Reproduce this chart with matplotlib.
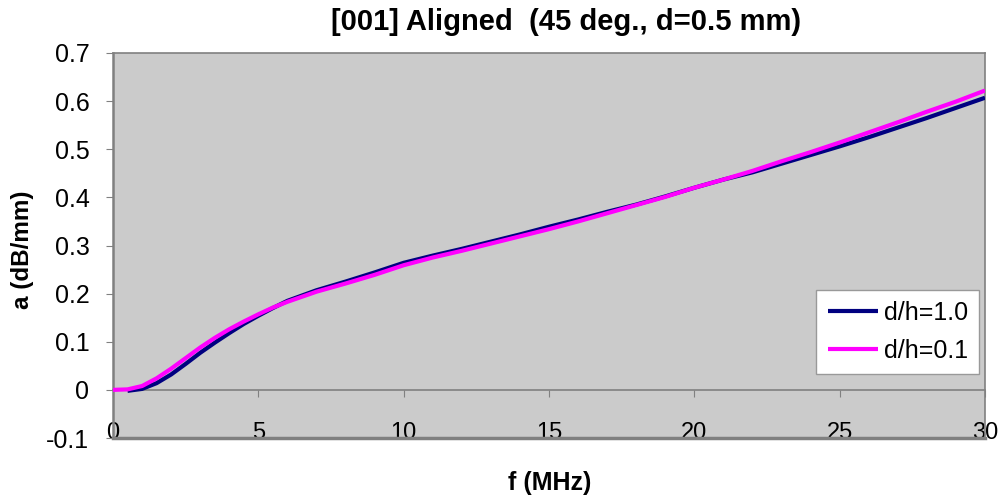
import matplotlib
matplotlib.use("Agg")
import matplotlib.pyplot as plt

plt.rcParams['font.family'] = ['Liberation Sans', 'DejaVu Sans']

# Frequency grid (MHz)
freq = [0, 0.5, 1, 1.5, 2, 2.5, 3, 3.5, 4, 4.5, 5, 5.5, 6, 7, 8, 9, 10, 11, 12,
        13, 14, 15, 16, 17, 18, 19, 20, 21, 22, 23, 24, 25, 26, 27, 28, 29, 30]

# Attenuation (dB/mm) for the two thickness ratios
atten_dh10 = [0.0, -0.002, 0.002, 0.014, 0.032, 0.054, 0.077, 0.098, 0.118, 0.137,
              0.154, 0.170, 0.185, 0.207, 0.225, 0.244, 0.264, 0.279, 0.293, 0.308,
              0.323, 0.339, 0.354, 0.370, 0.385, 0.402, 0.420, 0.437, 0.452, 0.470,
              0.488, 0.506, 0.525, 0.545, 0.565, 0.586, 0.607]
atten_dh01 = [0.0, 0.001, 0.008, 0.024, 0.044, 0.066, 0.088, 0.108, 0.126, 0.142,
              0.157, 0.171, 0.183, 0.204, 0.221, 0.239, 0.259, 0.275, 0.289, 0.304,
              0.319, 0.334, 0.350, 0.367, 0.384, 0.401, 0.420, 0.437, 0.455, 0.475,
              0.494, 0.514, 0.535, 0.556, 0.578, 0.599, 0.622]

series_labels = ['d/h=1.0', 'd/h=0.1']
series_colors = ['#000080', '#FF00FF']

x_ticks = [0, 5, 10, 15, 20, 25, 30]
y_ticks = [-0.1, 0, 0.1, 0.2, 0.3, 0.4, 0.5, 0.6, 0.7]
y_tick_labels = ['-0.1', '0', '0.1', '0.2', '0.3', '0.4', '0.5', '0.6', '0.7']

fig = plt.figure(figsize=(10.01, 5.01), dpi=100)
fig.patch.set_facecolor('white')
ax = fig.add_axes([113 / 1001, 1 - 438 / 501, 872 / 1001, 385 / 501])
ax.set_facecolor('#CBCBCB')

ax.plot(freq[1:], atten_dh10[1:], color=series_colors[0], lw=3,
        label=series_labels[0], solid_capstyle='butt', zorder=3)
ax.plot(freq, atten_dh01, color=series_colors[1], lw=3,
        label=series_labels[1], solid_capstyle='butt', zorder=4)

ax.set_xlim(0, 30)
ax.set_ylim(-0.1, 0.7)

# x axis crosses at y=0, labels sit at the bottom of the plot area
ax.spines['bottom'].set_position(('data', 0))
for s in ['bottom', 'left', 'top', 'right']:
    ax.spines[s].set_color('#808080')
ax.spines['left'].set_linewidth(1.8)
ax.spines['bottom'].set_linewidth(1.2)
ax.spines['top'].set_linewidth(1.2)
ax.spines['right'].set_linewidth(1.2)
ax.axhline(-0.1, color='#808080', lw=2.5, clip_on=False, zorder=5)

ax.set_xticks(x_ticks)
ax.set_xticklabels([str(t) for t in x_ticks])
ax.set_yticks(y_ticks)
ax.set_yticklabels(y_tick_labels)
ax.tick_params(axis='x', direction='out', length=5, color='#808080',
               labelsize=17, pad=18)
ax.tick_params(axis='y', direction='out', length=5, color='#808080',
               labelsize=18, pad=12)

fig.text(566 / 1001, 1 - 22 / 501, '[001] Aligned  (45 deg., d=0.5 mm)',
         fontsize=21, fontweight='bold', ha='center', va='center')
fig.text(550 / 1001, 1 - 483 / 501, 'f (MHz)', fontsize=18, fontweight='bold',
         ha='center', va='center')
fig.text(22 / 1001, 1 - 250 / 501, 'a (dB/mm)', fontsize=17.5, fontweight='bold',
         ha='center', va='center', rotation=90)

leg = ax.legend(loc='lower right', bbox_to_anchor=(0.9935, 0.166), fontsize=18,
                frameon=True, fancybox=False, edgecolor='#999999',
                framealpha=1, handlelength=2.0, handletextpad=0.25,
                borderpad=0.45, labelspacing=0.55, borderaxespad=0)
leg.get_frame().set_linewidth(1.0)

fig.savefig('out.png', dpi=100)
